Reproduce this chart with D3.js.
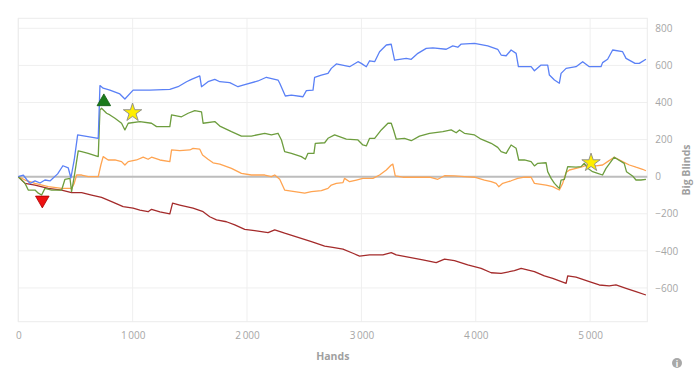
<!DOCTYPE html>
<html>
<head>
<meta charset="utf-8">
<script src="https://cdn.jsdelivr.net/npm/d3@7"></script>
<style>
  html, body { margin: 0; padding: 0; background: #fff; }
  svg { display: block; font-family: "Open Sans", "Noto Sans", sans-serif; }
</style>
</head>
<body>
<svg id="chart" width="700" height="373"></svg>
<script>
// ---- data (hands, big blinds) ----
const blueSeries = [[0,0],[44,8],[76,-18],[102,-36],[146,-23],[190,-34],[233,-18],[277,-23],[344,15],[390,59],[437,47],[460,-7],[489,90],[519,225],[583,219],[699,207],[714,491],[742,477],[801,467],[888,446],[932,419],[1004,467],[1150,467],[1325,471],[1397,485],[1471,512],[1514,525],[1587,543],[1602,485],[1659,512],[1718,525],[1762,512],[1849,507],[1921,485],[1965,494],[2096,516],[2169,536],[2271,521],[2286,504],[2335,435],[2388,440],[2489,431],[2519,464],[2577,467],[2591,536],[2650,548],[2708,557],[2737,584],[2781,608],[2897,593],[2970,620],[2999,611],[3043,593],[3072,625],[3116,620],[3159,674],[3218,710],[3261,714],[3290,629],[3392,638],[3436,633],[3494,665],[3567,692],[3625,695],[3742,687],[3799,705],[3843,698],[3873,715],[3989,719],[4105,705],[4192,687],[4222,656],[4266,652],[4309,683],[4353,665],[4373,593],[4484,593],[4513,571],[4571,602],[4629,602],[4644,548],[4688,521],[4731,504],[4746,557],[4790,584],[4877,593],[4935,620],[4993,593],[5095,593],[5109,615],[5153,633],[5197,683],[5284,674],[5314,638],[5393,611],[5430,611],[5488,633]];

const greenSeries = [[0,0],[59,-36],[87,-72],[146,-72],[175,-89],[204,-99],[233,-63],[292,-72],[379,-72],[408,-14],[452,-9],[466,-81],[489,0],[524,139],[554,135],[611,126],[699,108],[714,360],[728,369],[772,342],[801,333],[845,315],[903,288],[932,252],[961,288],[1063,297],[1165,288],[1209,270],[1325,270],[1340,333],[1427,323],[1485,342],[1543,356],[1602,350],[1616,288],[1718,297],[1762,273],[1864,243],[1951,219],[2038,219],[2155,234],[2213,225],[2271,234],[2301,198],[2329,135],[2388,126],[2475,108],[2510,94],[2533,126],[2585,126],[2597,180],[2679,183],[2708,207],[2766,225],[2868,202],[2970,198],[3013,171],[3043,166],[3072,207],[3116,207],[3174,252],[3232,288],[3261,288],[3281,252],[3305,202],[3377,207],[3436,194],[3508,219],[3596,234],[3712,243],[3785,252],[3829,237],[3858,252],[3901,234],[3989,225],[4047,202],[4135,180],[4192,158],[4222,135],[4266,126],[4309,171],[4353,153],[4376,90],[4425,90],[4484,81],[4513,58],[4542,72],[4615,75],[4629,27],[4659,-9],[4688,-36],[4716,-54],[4731,-63],[4746,-18],[4775,-14],[4804,54],[4877,51],[4921,54],[4950,72],[4979,45],[5022,27],[5066,18],[5109,9],[5139,45],[5211,105],[5298,72],[5318,27],[5371,4],[5401,-18],[5444,-18],[5488,-14]];

const orangeSeries = [[0,0],[59,-18],[146,-36],[262,-54],[379,-63],[466,-63],[489,-36],[510,9],[554,9],[611,0],[699,0],[722,63],[742,108],[786,90],[845,90],[903,81],[932,63],[961,81],[1034,90],[1092,105],[1135,94],[1165,105],[1238,90],[1325,81],[1340,144],[1412,140],[1500,144],[1528,153],[1587,148],[1611,117],[1659,94],[1703,75],[1762,68],[1864,45],[1951,18],[2038,9],[2155,9],[2213,0],[2242,9],[2286,-14],[2329,-72],[2417,-81],[2504,-89],[2563,-81],[2650,-75],[2708,-63],[2737,-45],[2781,-36],[2839,-32],[2853,-9],[2897,-27],[2956,-18],[3013,-9],[3101,-9],[3159,9],[3218,36],[3261,63],[3275,68],[3296,4],[3363,-3],[3480,-3],[3596,-3],[3668,-14],[3727,5],[3814,4],[3901,0],[3989,-3],[4076,-18],[4135,-27],[4178,-36],[4201,-54],[4236,-36],[4309,-22],[4367,-9],[4425,-3],[4484,-3],[4513,-36],[4615,-45],[4673,-54],[4731,-72],[4760,-36],[4790,22],[4819,36],[4877,45],[4935,54],[4993,68],[5051,58],[5109,63],[5153,81],[5211,105],[5284,81],[5343,63],[5401,51],[5459,40],[5488,32]];

const redSeries = [[0,0],[59,-36],[146,-45],[262,-63],[379,-72],[466,-86],[554,-86],[641,-99],[728,-112],[816,-135],[917,-162],[1004,-170],[1063,-180],[1135,-189],[1165,-176],[1238,-190],[1325,-201],[1349,-143],[1412,-153],[1528,-170],[1616,-189],[1674,-216],[1733,-233],[1820,-243],[1893,-260],[1980,-284],[2067,-291],[2184,-302],[2242,-287],[2329,-305],[2446,-327],[2563,-350],[2679,-374],[2749,-381],[2839,-391],[2926,-413],[2984,-428],[3072,-422],[3188,-422],[3261,-410],[3305,-422],[3421,-435],[3537,-449],[3654,-463],[3727,-445],[3814,-453],[3930,-476],[4047,-494],[4135,-518],[4222,-521],[4338,-507],[4397,-494],[4513,-512],[4600,-535],[4673,-548],[4790,-575],[4804,-535],[4877,-542],[4993,-566],[5080,-584],[5167,-589],[5226,-584],[5314,-602],[5401,-620],[5488,-638]];

const seriesNames = ["red", "orange", "green", "blue"];
const seriesColors = ["#a42b2b", "#ffa451", "#6d9d3e", "#5a80f6"];

const markerUp = [[748, 404]];     // green triangle
const markerDown = [[210, -126]];  // red triangle
const markerStars = [[999, 345], [5008, 75]];

const xTicks = [0, 1000, 2000, 3000, 4000, 5000];
const yTicks = [-600, -400, -200, 0, 200, 400, 600, 800];
const xDomain = [0, 5500];
const yDomain = [-782, 854];

const xTitle = "Hands";
const yTitle = "Big Blinds";

// ---- layout ----
const svg = d3.select("#chart");
const pLeft = 18.3, pRight = 647.3, pTop = 18.3, pBottom = 321.7;
const x = d3.scaleLinear().domain(xDomain).range([pLeft, pRight]);
const y = d3.scaleLinear().domain(yDomain).range([pBottom, pTop]);
const fmt = d => d3.format(",")(d).replace(/,/g, "\u2009");

// grid
const g = svg.append("g");
g.selectAll("line.hg").data(yTicks.filter(d => d !== 0)).join("line")
  .attr("x1", pLeft).attr("x2", pRight)
  .attr("y1", d => y(d)).attr("y2", d => y(d))
  .attr("stroke", "#efefef").attr("stroke-width", 1);
g.selectAll("line.vg").data(xTicks).join("line")
  .attr("y1", pTop).attr("y2", pBottom)
  .attr("x1", d => x(d)).attr("x2", d => x(d))
  .attr("stroke", "#efefef").attr("stroke-width", 1);
g.append("rect").attr("x", pLeft).attr("y", pTop)
  .attr("width", pRight - pLeft).attr("height", pBottom - pTop)
  .attr("fill", "none").attr("stroke", "#ececec").attr("stroke-width", 1);

// zero line
g.append("line").attr("x1", pLeft).attr("x2", pRight)
  .attr("y1", y(0)).attr("y2", y(0))
  .attr("stroke", "#bdbdbd").attr("stroke-width", 2);

// axes
const yAxis = d3.axisRight(y).tickValues(yTicks).tickSize(0).tickPadding(8).tickFormat(fmt);
const ya = svg.append("g").attr("transform", `translate(${pRight},0)`).call(yAxis);
ya.select(".domain").remove();
ya.selectAll("text").attr("fill", "#a6a6a6").style("font-size", "10px").style("font-family", "'Open Sans', sans-serif");

const xAxis = d3.axisBottom(x).tickValues(xTicks).tickSize(0).tickPadding(10).tickFormat(fmt);
const xa = svg.append("g").attr("transform", `translate(0,${pBottom})`).call(xAxis);
xa.select(".domain").remove();
xa.selectAll("text").attr("fill", "#a6a6a6").style("font-size", "10px").style("font-family", "'Open Sans', sans-serif");

svg.append("text").attr("x", (pLeft + pRight) / 2).attr("y", 360)
  .attr("text-anchor", "middle").attr("fill", "#a0a0a0")
  .style("font-size", "10.5px").style("font-weight", "bold").text(xTitle);
svg.append("text").attr("transform", `translate(690,${(pTop + pBottom) / 2}) rotate(-90)`)
  .attr("text-anchor", "middle").attr("fill", "#a0a0a0")
  .style("font-size", "10.5px").style("font-weight", "bold").text(yTitle);

// lines
const line = d3.line().x(d => x(d[0])).y(d => y(d[1]));
const allSeries = [redSeries, orangeSeries, greenSeries, blueSeries];
svg.append("g").selectAll("path").data(allSeries).join("path")
  .attr("d", line).attr("fill", "none")
  .attr("stroke", (d, i) => seriesColors[i]).attr("stroke-width", 1.3)
  .attr("stroke-linejoin", "round");

// markers
const mk = svg.append("g");
mk.selectAll("path.up").data(markerUp).join("path")
  .attr("transform", d => `translate(${x(d[0])},${y(d[1])})`)
  .attr("d", d3.symbol(d3.symbolTriangle, 80)())
  .attr("fill", "#1a7a1a").attr("stroke", "#0f5a0f").attr("stroke-width", 0.8);
mk.selectAll("path.down").data(markerDown).join("path")
  .attr("transform", d => `translate(${x(d[0])},${y(d[1])}) rotate(180)`)
  .attr("d", d3.symbol(d3.symbolTriangle, 80)())
  .attr("fill", "#ee1111").attr("stroke", "#a00").attr("stroke-width", 0.8);
mk.selectAll("path.star").data(markerStars).join("path")
  .attr("transform", d => `translate(${x(d[0])},${y(d[1])})`)
  .attr("d", d3.symbol(d3.symbolStar, 105)())
  .attr("fill", "#ffee00").attr("stroke", "#8a8a8a").attr("stroke-width", 0.9);

// info icon
svg.append("circle").attr("cx", 677).attr("cy", 363).attr("r", 5).attr("fill", "#a8a8a8");
svg.append("text").attr("x", 677).attr("y", 366.5).attr("text-anchor", "middle")
  .attr("fill", "#fff").style("font-size", "8px").style("font-weight", "bold").text("i");
</script>
</body>
</html>
